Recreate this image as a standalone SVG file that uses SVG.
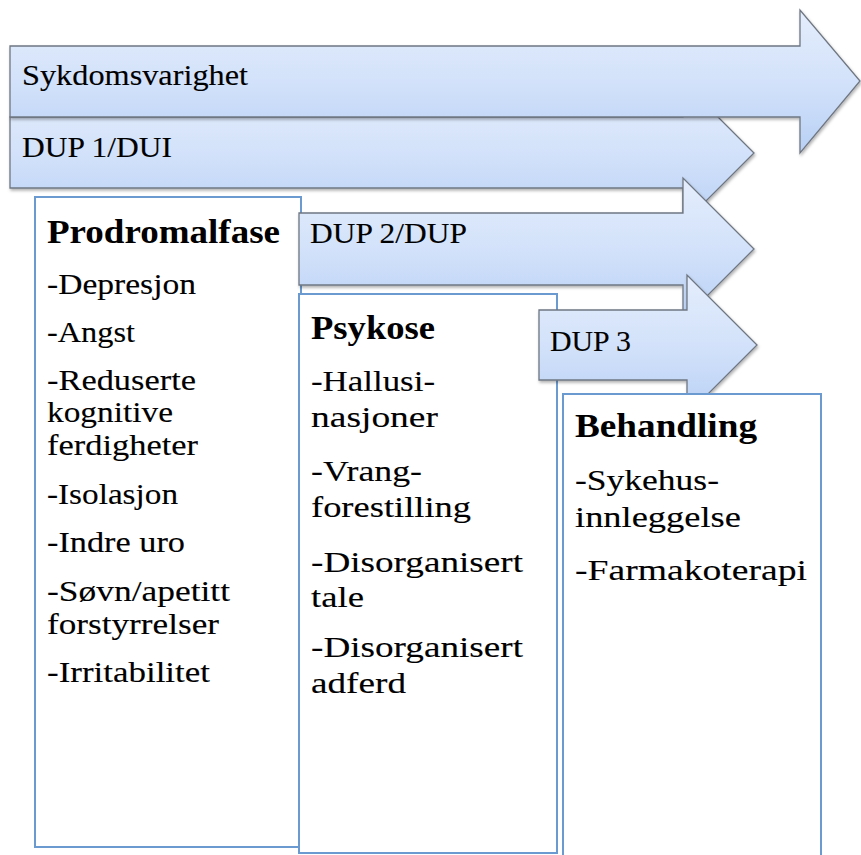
<svg xmlns="http://www.w3.org/2000/svg" width="861" height="855" viewBox="0 0 861 855">
<defs>
<linearGradient id="ag" x1="0" y1="0" x2="0" y2="1">
<stop offset="0" stop-color="#e4edfc"/>
<stop offset="0.5" stop-color="#d3e2fa"/>
<stop offset="1" stop-color="#b8d0f5"/>
</linearGradient>
<filter id="sh" x="-5%" y="-10%" width="115%" height="130%">
<feDropShadow dx="1" dy="2" stdDeviation="1.5" flood-color="#000" flood-opacity="0.3"/>
</filter>
</defs>
<style>
.arrow{fill:url(#ag);stroke:#6f7782;stroke-width:1.3;filter:url(#sh)}
.box{fill:#fff;stroke:#6a9ad0;stroke-width:2}
.t{font-family:"Liberation Serif","Times New Roman",serif;font-size:30px;fill:#000;stroke:#000;stroke-width:0.12}
.h{font-family:"Liberation Serif","Times New Roman",serif;font-weight:bold;font-size:34px;fill:#000}
</style>
<rect width="861" height="855" fill="#fff"/>
<g id="connectors">
<g id="arrow-dup1">
<path class="arrow" d="M10,117 H683 V82 L754,153 L683,224 V188 H10 Z"/>
<text class="t" x="22" y="157" textLength="150" lengthAdjust="spacingAndGlyphs">DUP 1/DUI</text>
</g>
<g id="arrow-sykdomsvarighet">
<path class="arrow" d="M10,46 H800 V10 L860,81 L800,153 V117 H10 Z"/>
<text class="t" x="22" y="85" textLength="226" lengthAdjust="spacingAndGlyphs">Sykdomsvarighet</text>
</g>
</g>
<g id="prodromalfase">
<rect class="box" x="35" y="197" width="266" height="650"/>
<text class="h" x="47" y="243" textLength="233" lengthAdjust="spacingAndGlyphs">Prodromalfase</text>
<text class="t" x="47" y="294" textLength="149" lengthAdjust="spacingAndGlyphs">-Depresjon</text>
<text class="t" x="47" y="342" textLength="88" lengthAdjust="spacingAndGlyphs">-Angst</text>
<text class="t" x="47" y="390" textLength="149" lengthAdjust="spacingAndGlyphs">-Reduserte</text>
<text class="t" x="47" y="422" textLength="126" lengthAdjust="spacingAndGlyphs">kognitive</text>
<text class="t" x="47" y="455" textLength="151" lengthAdjust="spacingAndGlyphs">ferdigheter</text>
<text class="t" x="47" y="504" textLength="131" lengthAdjust="spacingAndGlyphs">-Isolasjon</text>
<text class="t" x="47" y="552" textLength="138" lengthAdjust="spacingAndGlyphs">-Indre uro</text>
<text class="t" x="47" y="601" textLength="183" lengthAdjust="spacingAndGlyphs">-Søvn/apetitt</text>
<text class="t" x="47" y="634" textLength="172" lengthAdjust="spacingAndGlyphs">forstyrrelser</text>
<text class="t" x="47" y="682" textLength="163" lengthAdjust="spacingAndGlyphs">-Irritabilitet</text>
</g>
<g id="arrow-dup2">
<path class="arrow" d="M299,213 H683 V178 L754,249 L683,320 V285 H299 Z"/>
<text class="t" x="310" y="243" textLength="157" lengthAdjust="spacingAndGlyphs">DUP 2/DUP</text>
</g>
<g id="psykose">
<rect class="box" x="299" y="294" width="258" height="559"/>
<text class="h" x="311" y="339" textLength="124" lengthAdjust="spacingAndGlyphs">Psykose</text>
<text class="t" x="311" y="391" textLength="124" lengthAdjust="spacingAndGlyphs">-Hallusi-</text>
<text class="t" x="311" y="427" textLength="127" lengthAdjust="spacingAndGlyphs">nasjoner</text>
<text class="t" x="311" y="481" textLength="111" lengthAdjust="spacingAndGlyphs">-Vrang-</text>
<text class="t" x="311" y="517" textLength="160" lengthAdjust="spacingAndGlyphs">forestilling</text>
<text class="t" x="311" y="572" textLength="212" lengthAdjust="spacingAndGlyphs">-Disorganisert</text>
<text class="t" x="311" y="607" textLength="53" lengthAdjust="spacingAndGlyphs">tale</text>
<text class="t" x="311" y="657" textLength="212" lengthAdjust="spacingAndGlyphs">-Disorganisert</text>
<text class="t" x="311" y="693" textLength="95" lengthAdjust="spacingAndGlyphs">adferd</text>
</g>
<g id="arrow-dup3">
<path class="arrow" d="M539,310 H687 V275 L757,345 L687,415 V380 H539 Z"/>
<text class="t" x="550" y="351" textLength="81" lengthAdjust="spacingAndGlyphs">DUP 3</text>
</g>
<g id="behandling">
<rect class="box" x="563" y="394" width="258" height="470"/>
<text class="h" x="575" y="437" textLength="182" lengthAdjust="spacingAndGlyphs">Behandling</text>
<text class="t" x="575" y="490" textLength="144" lengthAdjust="spacingAndGlyphs">-Sykehus-</text>
<text class="t" x="575" y="527" textLength="166" lengthAdjust="spacingAndGlyphs">innleggelse</text>
<text class="t" x="575" y="580" textLength="232" lengthAdjust="spacingAndGlyphs">-Farmakoterapi</text>
</g>
</svg>
